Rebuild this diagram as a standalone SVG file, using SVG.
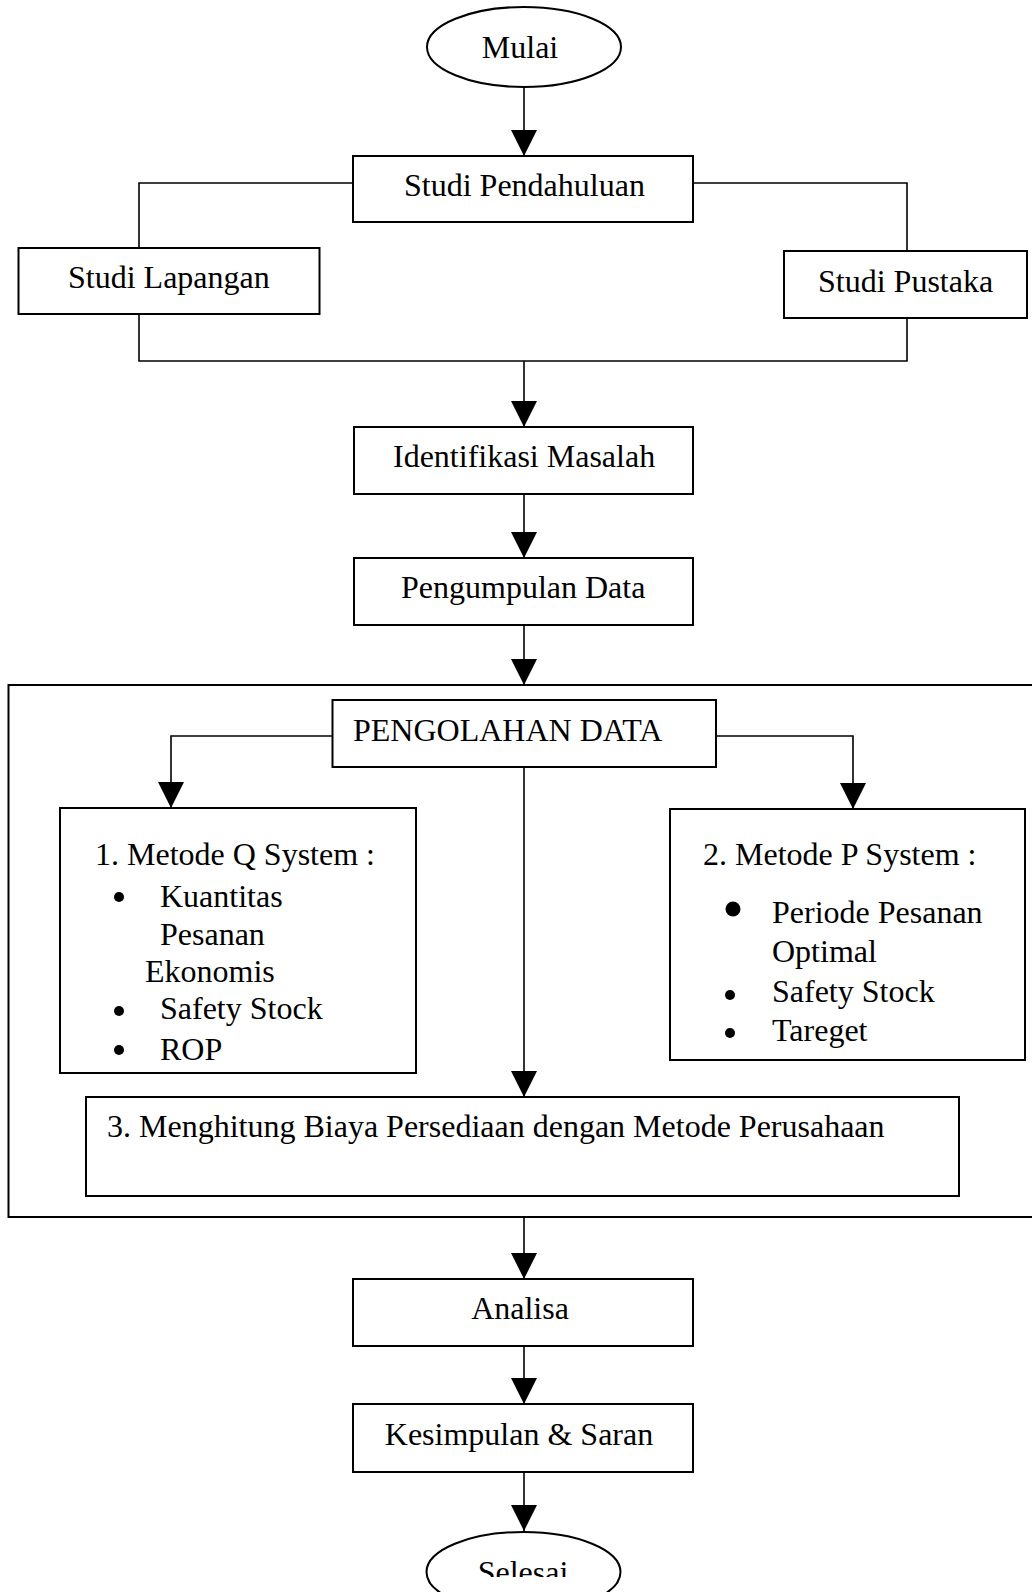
<svg xmlns="http://www.w3.org/2000/svg" width="1032" height="1592" viewBox="0 0 1032 1592">
  <style>
    .box { fill: #fff; stroke: #000; stroke-width: 2; }
    .frame { fill: none; stroke: #000; stroke-width: 2; }
    .wire { fill: none; stroke: #000; stroke-width: 1.6; }
    .t { font-family: "Liberation Serif", "Times New Roman", serif; font-size: 32px; fill: #000; }
    .c { text-anchor: middle; }
  </style>
  <defs>
    <marker id="head" viewBox="0 0 26 26" refX="26" refY="13" markerWidth="26" markerHeight="26" markerUnits="userSpaceOnUse" orient="auto">
      <path d="M0,0 L26,13 L0,26 z" fill="#000"/>
    </marker>
    <clipPath id="endClip">
      <rect x="0" y="0" width="1032" height="1577"/>
    </clipPath>
  </defs>

  <rect width="1032" height="1592" fill="#fff"/>

  <!-- processing frame -->
  <g id="pengolahan-frame">
    <rect class="frame" x="8.5" y="685" width="1040" height="532"/>
  </g>

  <!-- connectors -->
  <g id="connectors">
    <path class="wire" d="M524,88 V156" marker-end="url(#head)"/>
    <path class="wire" d="M353,183 H139 V248"/>
    <path class="wire" d="M693,183 H907 V251"/>
    <path class="wire" d="M139,314 V361 H907 V318"/>
    <path class="wire" d="M524,361 V427" marker-end="url(#head)"/>
    <path class="wire" d="M524,494 V558" marker-end="url(#head)"/>
    <path class="wire" d="M524,625 V685" marker-end="url(#head)"/>
    <path class="wire" d="M332,736 H171 V808" marker-end="url(#head)"/>
    <path class="wire" d="M716,736 H853 V809" marker-end="url(#head)"/>
    <path class="wire" d="M524,767 V1097" marker-end="url(#head)"/>
    <path class="wire" d="M524,1217 V1279" marker-end="url(#head)"/>
    <path class="wire" d="M524,1346 V1404" marker-end="url(#head)"/>
    <path class="wire" d="M524,1472 V1531" marker-end="url(#head)"/>
  </g>

  <g id="mulai">
    <ellipse class="box" cx="524" cy="47" rx="97" ry="40"/>
    <text class="t c" x="520" y="58">Mulai</text>
  </g>

  <g id="studi-pendahuluan">
    <rect class="box" x="353" y="156" width="340" height="66"/>
    <text class="t" x="404" y="196">Studi Pendahuluan</text>
  </g>

  <g id="studi-lapangan">
    <rect class="box" x="18.5" y="248" width="301" height="66"/>
    <text class="t" x="68" y="288">Studi Lapangan</text>
  </g>

  <g id="studi-pustaka">
    <rect class="box" x="784" y="251" width="243" height="67"/>
    <text class="t" x="818" y="292">Studi Pustaka</text>
  </g>

  <g id="identifikasi-masalah">
    <rect class="box" x="354" y="427" width="339" height="67"/>
    <text class="t" x="393" y="467">Identifikasi Masalah</text>
  </g>

  <g id="pengumpulan-data">
    <rect class="box" x="354" y="558" width="339" height="67"/>
    <text class="t" x="401" y="598">Pengumpulan Data</text>
  </g>

  <g id="pengolahan-data">
    <rect class="box" x="332.5" y="700" width="383.5" height="67"/>
    <text class="t" x="353" y="741">PENGOLAHAN DATA</text>
  </g>

  <g id="metode-q">
    <rect class="box" x="60" y="808" width="356" height="265"/>
    <text class="t" x="95" y="865">1. Metode Q System :</text>
    <circle cx="119" cy="897" r="5"/>
    <text class="t" x="160" y="907">Kuantitas</text>
    <text class="t" x="160" y="945">Pesanan</text>
    <text class="t" x="145" y="982">Ekonomis</text>
    <circle cx="119" cy="1011" r="5"/>
    <text class="t" x="160" y="1019">Safety Stock</text>
    <circle cx="119" cy="1050" r="5"/>
    <text class="t" x="160" y="1060">ROP</text>
  </g>

  <g id="metode-p">
    <rect class="box" x="670" y="809" width="355" height="251"/>
    <text class="t" x="703" y="865">2. Metode P System :</text>
    <circle cx="733" cy="909" r="7.5"/>
    <text class="t" x="772" y="923">Periode Pesanan</text>
    <text class="t" x="772" y="962">Optimal</text>
    <circle cx="730" cy="995" r="5"/>
    <text class="t" x="772" y="1002">Safety Stock</text>
    <circle cx="730" cy="1033" r="5"/>
    <text class="t" x="772" y="1041">Tareget</text>
  </g>

  <g id="biaya-perusahaan">
    <rect class="box" x="86" y="1097" width="873" height="99"/>
    <text class="t" x="107" y="1137">3. Menghitung Biaya Persediaan dengan Metode Perusahaan</text>
  </g>

  <g id="analisa">
    <rect class="box" x="353" y="1279" width="340" height="67"/>
    <text class="t c" x="520" y="1319">Analisa</text>
  </g>

  <g id="kesimpulan-saran">
    <rect class="box" x="353" y="1404" width="340" height="68"/>
    <text class="t c" x="519" y="1445">Kesimpulan &amp; Saran</text>
  </g>

  <g id="selesai">
    <ellipse class="box" cx="523.5" cy="1572" rx="97" ry="40"/>
    <text class="t c" x="523" y="1583" clip-path="url(#endClip)">Selesai</text>
  </g>
</svg>
